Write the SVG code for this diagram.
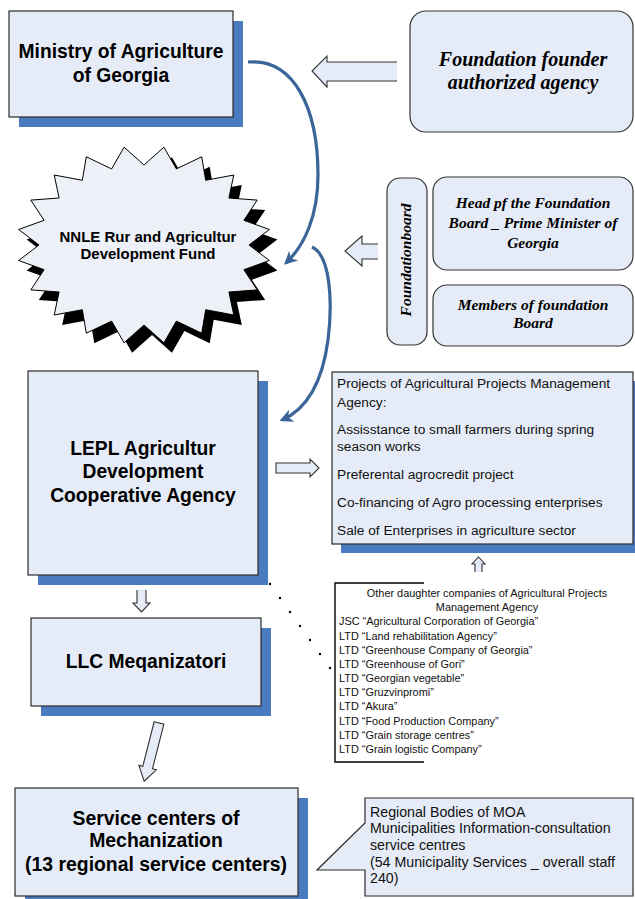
<svg xmlns="http://www.w3.org/2000/svg" width="635" height="899" viewBox="0 0 635 899">
<defs>
<style>
.box{fill:#E6ECF7;stroke:#2b2b2b;stroke-width:1.2}
.shadow{fill:#4A7BBF}
.rbox{fill:#E6ECF7;stroke:#333;stroke-width:1.2}
.blk{fill:#E6ECF7;stroke:none}
.blkline{fill:none;stroke:#333;stroke-width:1.1;stroke-linejoin:miter}
.bold{font-family:"Liberation Sans",Arial,sans-serif;font-weight:bold;fill:#000;text-anchor:middle}
.ser{font-family:"Liberation Serif","Times New Roman",serif;font-style:italic;font-weight:bold;fill:#000;text-anchor:middle}
.cal{font-family:"Liberation Sans",Arial,sans-serif;fill:#111}
.curve{fill:none;stroke:#3A6598;stroke-width:3.2}
</style>
<marker id="ah" viewBox="0 0 10 10" refX="8" refY="5" markerWidth="4.2" markerHeight="4.2" orient="auto" markerUnits="strokeWidth">
<path d="M0,0 L10,5 L0,10 L3,5 Z" fill="#3A6598"/>
</marker>
</defs>
<rect width="635" height="899" fill="#fff"/>

<g id="connectors">
<path class="curve" d="M248,62 C295,58 318,110 318,175 C318,215 305,245 286,263" marker-end="url(#ah)"/>
<path class="curve" d="M312,247 C330,255 333,300 328,340 C322,385 305,410 282,420" marker-end="url(#ah)"/>
<!-- left arrow from founder -->
<polygon class="blk" points="397,62 327,62 327,56 312,71 327,87 327,81 397,81"/>
<polyline class="blkline" points="397,62 327,62 327,56 312,71 327,87 327,81 397,81"/>
<!-- left arrow from board -->
<polygon class="blk" points="378,244 362,244 362,236 345,251 362,266 362,259 378,259"/>
<polyline class="blkline" points="378,244 362,244 362,236 345,251 362,266 362,259 378,259"/>
<!-- right arrow LEPL to projects -->
<polygon class="blk blkline" style="fill:#E6ECF7" points="276,463 310,463 310,459 319,468 310,477 310,473 276,473"/>
<!-- up arrow -->
<polygon class="blk" points="475,572 475,564 472,564 478.5,557 485,564 482,564 482,572"/>
<polyline class="blkline" points="475,572 475,564 472,564 478.5,557 485,564 482,564 482,572"/>
<!-- down arrow LEPL to LLC -->
<polygon class="blk" points="137,590 137,603 133,603 141.5,612 150,603 146,603 146,590"/>
<polyline class="blkline" points="137,590 137,603 133,603 141.5,612 150,603 146,603 146,590"/>
<!-- diagonal arrow LLC to service -->
<polygon class="blkline" style="fill:#E6ECF7" transform="translate(159,723) rotate(14.3)" points="-5,0 5,0 5,46 9,46 0,60 -9,46 -5,46"/>
<!-- dotted connector -->
<line x1="270" y1="584" x2="330" y2="668" stroke="#000" stroke-width="2.4" stroke-linecap="round" stroke-dasharray="0 17.2"/>
</g>

<g id="ministry">
<rect class="shadow" x="19" y="21" width="224" height="106"/>
<rect class="box" x="9" y="11" width="224" height="106"/>
<text class="bold" font-size="19.3" x="121" y="58">Ministry of Agriculture</text>
<text class="bold" font-size="19.3" x="121" y="82">of Georgia</text>
</g>

<g id="founder">
<rect class="rbox" x="410" y="11" width="223" height="121" rx="16"/>
<text class="ser" font-size="20" x="523" y="66">Foundation founder</text>
<text class="ser" font-size="20" x="523" y="89">authorized agency</text>
</g>

<g id="fund">
<polygon fill="#000" transform="translate(8,10)" points="124.1,147.2 144,165 163.9,147.2 176.4,168.9 201.7,156.8 205.7,180.3 233.8,175 228.9,198 257.2,200.1 243.9,220.3 269.4,229.5 249,245 269.4,260.5 243.9,269.7 257.2,289.9 228.9,292 233.8,315 205.7,309.7 201.7,333.2 176.4,321.1 163.9,342.8 144,325 124.1,342.8 111.6,321.1 86.3,333.2 82.3,309.7 54.2,315 59.1,292 30.8,289.9 44.1,269.7 18.6,260.5 39,245 18.6,229.5 44.1,220.3 30.8,200.1 59.1,198 54.2,175 82.3,180.3 86.3,156.8 111.6,168.9"/>
<polygon fill="#EDF0F6" stroke="#000" stroke-width="1" points="124.1,147.2 144,165 163.9,147.2 176.4,168.9 201.7,156.8 205.7,180.3 233.8,175 228.9,198 257.2,200.1 243.9,220.3 269.4,229.5 249,245 269.4,260.5 243.9,269.7 257.2,289.9 228.9,292 233.8,315 205.7,309.7 201.7,333.2 176.4,321.1 163.9,342.8 144,325 124.1,342.8 111.6,321.1 86.3,333.2 82.3,309.7 54.2,315 59.1,292 30.8,289.9 44.1,269.7 18.6,260.5 39,245 18.6,229.5 44.1,220.3 30.8,200.1 59.1,198 54.2,175 82.3,180.3 86.3,156.8 111.6,168.9"/>
<text class="bold" font-size="15" x="148" y="242">NNLE Rur and Agricultur</text>
<text class="bold" font-size="15" x="148" y="259">Development Fund</text>
</g>

<g id="foundationboard">
<rect class="rbox" x="387" y="178" width="40" height="167" rx="13"/>
<text class="ser" font-size="15.5" transform="translate(411,260) rotate(-90)" x="0" y="0">Foundationboard</text>
</g>

<g id="head">
<rect class="rbox" x="433" y="177" width="200" height="93" rx="14"/>
<text class="ser" font-size="15.5" x="533" y="208">Head pf the Foundation</text>
<text class="ser" font-size="15.5" x="533" y="228">Board _ Prime Minister of</text>
<text class="ser" font-size="15.5" x="533" y="248">Georgia</text>
</g>

<g id="members">
<rect class="rbox" x="433" y="285" width="200" height="61" rx="14"/>
<text class="ser" font-size="15.5" x="533" y="310">Members of foundation</text>
<text class="ser" font-size="15.5" x="533" y="328">Board</text>
</g>

<g id="lepl">
<rect class="shadow" x="38" y="381" width="230" height="204"/>
<rect class="box" x="28" y="371" width="230" height="204"/>
<text class="bold" font-size="19.3" x="143" y="455">LEPL Agricultur</text>
<text class="bold" font-size="19.3" x="143" y="478">Development</text>
<text class="bold" font-size="19.3" x="143" y="502">Cooperative Agency</text>
</g>

<g id="projects">
<rect class="shadow" x="341" y="381" width="301" height="172"/>
<rect class="box" x="332" y="372" width="301" height="172"/>
<g class="cal" font-size="13.7">
<text x="337" y="388">Projects of Agricultural Projects Management</text>
<text x="337" y="407">Agency:</text>
<text x="337" y="434">Assisstance to small farmers during spring</text>
<text x="337" y="451">season works</text>
<text x="337" y="479">Preferental agrocredit project</text>
<text x="337" y="507">Co-financing of Agro processing enterprises</text>
<text x="337" y="535">Sale of Enterprises in agriculture sector</text>
</g>
</g>

<g id="daughters">
<path d="M424,583 H335 V762 H424" fill="none" stroke="#000" stroke-width="1.4"/>
<g class="cal" font-size="10.9">
<text x="487" y="597" text-anchor="middle">Other daughter companies of Agricultural Projects</text>
<text x="487" y="611" text-anchor="middle">Management Agency</text>
<text x="339" y="625">JSC “Agricultural Corporation of Georgia”</text>
<text x="339" y="639.5">LTD “Land rehabilitation Agency”</text>
<text x="339" y="653.5">LTD “Greenhouse Company of Georgia”</text>
<text x="339" y="668">LTD “Greenhouse of Gori”</text>
<text x="339" y="682">LTD “Georgian vegetable”</text>
<text x="339" y="696">LTD “Gruzvinpromi”</text>
<text x="339" y="710">LTD “Akura”</text>
<text x="339" y="724.5">LTD “Food Production Company”</text>
<text x="339" y="738.5">LTD “Grain storage centres”</text>
<text x="339" y="752.5">LTD “Grain logistic Company”</text>
</g>
</g>

<g id="llc">
<rect class="shadow" x="41" y="628" width="230" height="88"/>
<rect class="box" x="31" y="618" width="230" height="88"/>
<text class="bold" font-size="19.3" x="146" y="668">LLC Meqanizatori</text>
</g>

<g id="service">
<rect class="shadow" x="25" y="798" width="283" height="108"/>
<rect class="box" x="15" y="788" width="283" height="108"/>
<text class="bold" font-size="19.4" x="156" y="825">Service centers of</text>
<text class="bold" font-size="19.4" x="156" y="847">Mechanization</text>
<text class="bold" font-size="19.4" x="156" y="871">(13 regional service centers)</text>
</g>

<g id="regional">
<path class="box" d="M365,798 H633 V896 H365 V870 H317 L365,823 Z"/>
<g class="cal" font-size="14.2">
<text x="370" y="817">Regional Bodies of MOA</text>
<text x="370" y="833">Municipalities Information-consultation</text>
<text x="370" y="850">service centres</text>
<text x="370" y="867">(54 Municipality Services _ overall staff</text>
<text x="370" y="883">240)</text>
</g>
</g>
</svg>
